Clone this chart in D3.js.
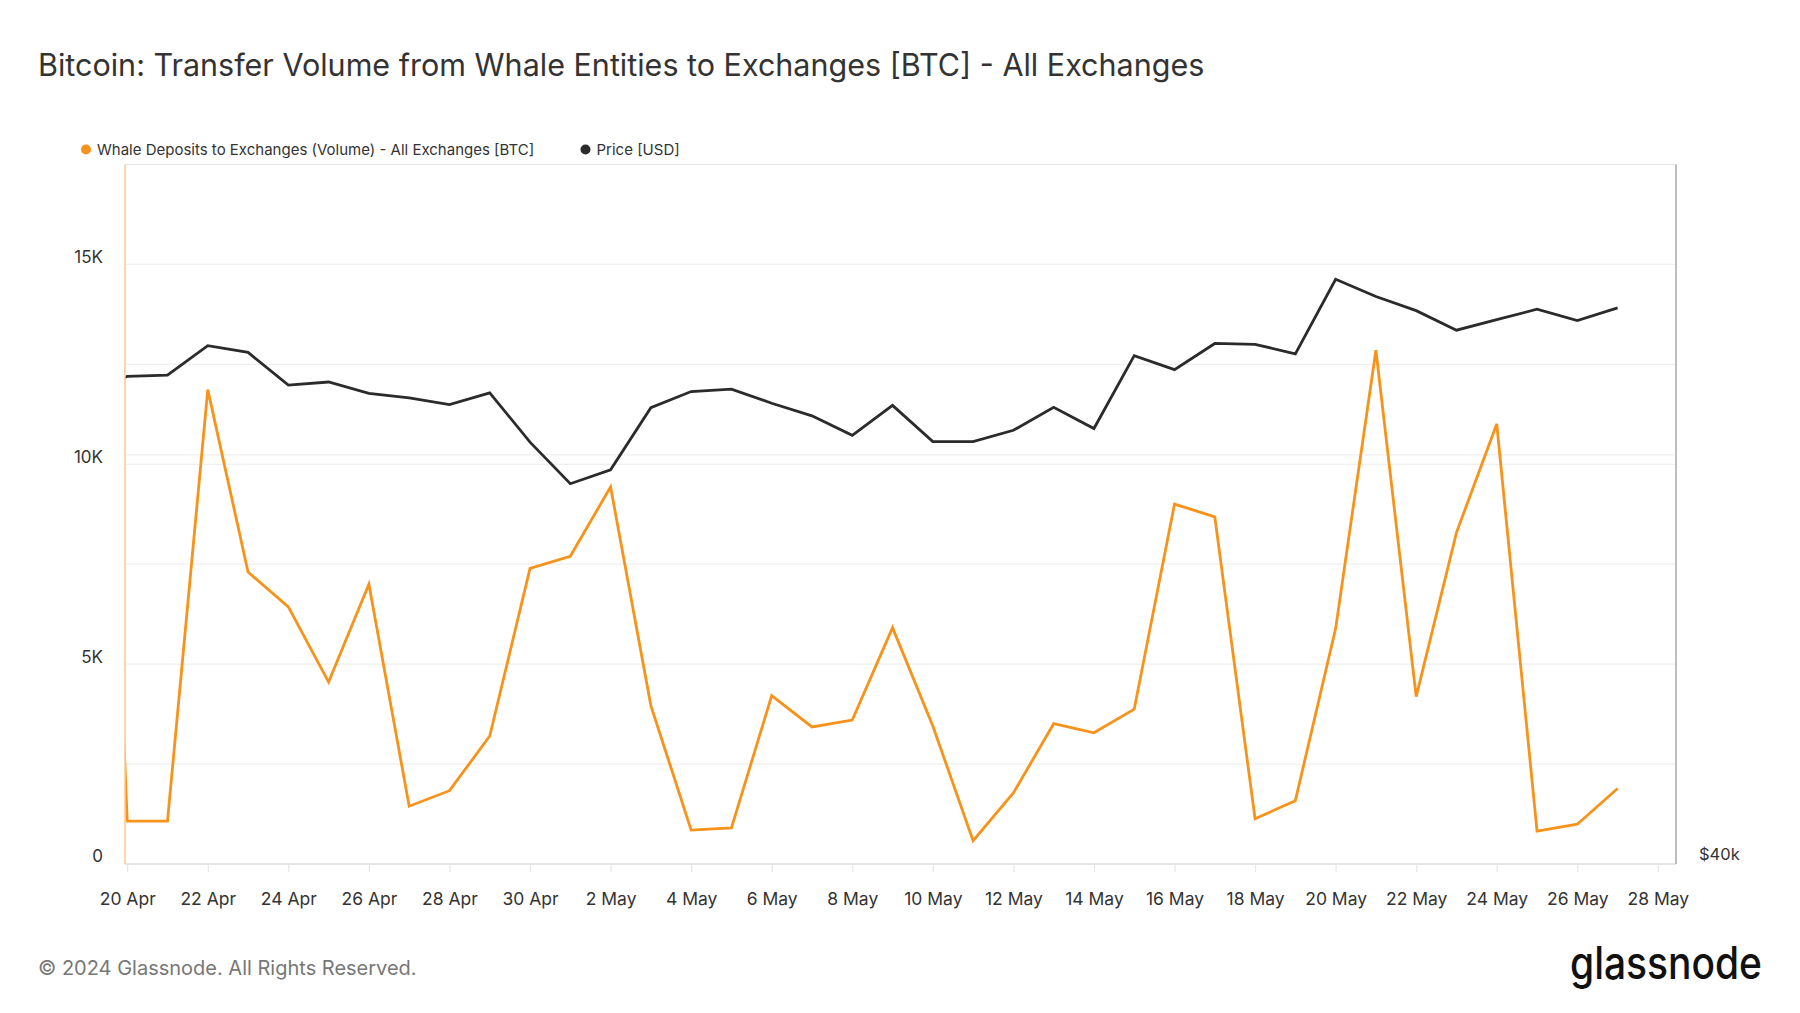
<!DOCTYPE html>
<html>
<head>
<meta charset="utf-8">
<script src="https://cdn.jsdelivr.net/npm/d3@7"></script>
<style>
  html, body { margin: 0; padding: 0; background: #fff; }
  svg { display: block; font-family: Inter, "Noto Sans", sans-serif; }
</style>
</head>
<body>
<svg id="chart" width="1800" height="1013"></svg>
<script>
// ---- Data ----
const dates = [
  "2024-04-19","2024-04-20","2024-04-21","2024-04-22","2024-04-23","2024-04-24","2024-04-25",
  "2024-04-26","2024-04-27","2024-04-28","2024-04-29","2024-04-30","2024-05-01","2024-05-02",
  "2024-05-03","2024-05-04","2024-05-05","2024-05-06","2024-05-07","2024-05-08","2024-05-09",
  "2024-05-10","2024-05-11","2024-05-12","2024-05-13","2024-05-14","2024-05-15","2024-05-16",
  "2024-05-17","2024-05-18","2024-05-19","2024-05-20","2024-05-21","2024-05-22","2024-05-23",
  "2024-05-24","2024-05-25","2024-05-26","2024-05-27"
];
const whaleDeposits = [
  25700, 1073, 1073, 11868, 7305, 6432, 4551,
  6998, 1446, 1834, 3202, 7395, 7700, 9434,
  3963, 848, 903, 4211, 3430, 3600, 5912,
  3452, 585, 1776, 3510, 3282, 3873, 9004,
  8686, 1131, 1584, 5889, 12854, 4188, 8291,
  11008, 823, 996, 1889
];
const priceUSD = [
  63900, 64845, 64928, 66856, 66408, 64292, 64488,
  63772, 63488, 63064, 63804, 60760, 58305, 59118,
  62865, 63884, 64032, 63148, 62362, 61172, 63010,
  60793, 60793, 61475, 62896, 61585, 66196, 65284,
  67000, 66944, 66316, 71396, 70188, 69216, 67888,
  68596, 69312, 68536, 69400
];
const leftTicks = [0, 5000, 10000, 15000];
const leftGrid = [2500, 5000, 7500, 10000, 12500, 15000];
const rightTicks = [40000];
const rightGrid = [60000];
const titleText = "Bitcoin: Transfer Volume from Whale Entities to Exchanges [BTC] - All Exchanges";
const seriesNames = ["Whale Deposits to Exchanges (Volume) - All Exchanges [BTC]", "Price [USD]"];
const seriesColors = ["#f7931a", "#2b2b2b"];

// ---- Layout ----
const svg = d3.select("#chart");
const L = 125, R = 1676, T = 164.5, B = 864;
const DAY = 86400000;
const t0 = Date.UTC(2024, 3, 20);

const parse = d3.utcParse("%Y-%m-%d");
const data = dates.map((d, i) => ({ date: parse(d), vol: whaleDeposits[i], price: priceUSD[i] }));

const x = d3.scaleUtc()
  .domain([new Date(t0 - 0.055 * DAY), new Date(t0 + 38.45 * DAY)])
  .range([L, R]);
const yL = d3.scaleLinear().domain([0, 17500]).range([B, T]);
const yR = d3.scaleLog().domain([40000, 80000]).range([B, T]);

// Title
svg.append("text")
  .attr("x", 38).attr("y", 75.5)
  .attr("font-size", 30.5).attr("fill", "#333")
  .text(titleText);

// Legend
const legend = svg.append("g");
const legX = [86, 585.5];
seriesNames.forEach((name, i) => {
  legend.append("circle").attr("cx", legX[i]).attr("cy", 149.5).attr("r", 5).attr("fill", seriesColors[i]);
  legend.append("text").attr("x", legX[i] + 11).attr("y", 155)
    .attr("font-size", 15).attr("fill", "#333").text(name);
});

// Gridlines
const grid = svg.append("g");
grid.selectAll("line.gl").data(leftGrid).join("line")
  .attr("x1", L).attr("x2", R)
  .attr("y1", d => yL(d)).attr("y2", d => yL(d))
  .attr("stroke", "#efefef").attr("stroke-width", 1.2);
grid.selectAll("line.gr").data(rightGrid).join("line")
  .attr("class", "gr")
  .attr("x1", L).attr("x2", R)
  .attr("y1", d => yR(d)).attr("y2", d => yR(d))
  .attr("stroke", "#efefef").attr("stroke-width", 1.2);

// Top & bottom borders
svg.append("line").attr("x1", L).attr("x2", R).attr("y1", T).attr("y2", T)
  .attr("stroke", "#e6e6e6").attr("stroke-width", 1.2);
svg.append("line").attr("x1", L).attr("x2", R).attr("y1", B).attr("y2", B)
  .attr("stroke", "#dedede").attr("stroke-width", 1.5);

// X axis ticks (every two days)
const xTicks = d3.utcDay.range(new Date(t0), new Date(t0 + 38.5 * DAY), 2);
const fmt = d3.utcFormat("%-d %b");
const xAxis = d3.axisBottom(x).tickValues(xTicks).tickFormat(fmt).tickSize(8).tickPadding(21);
const gx = svg.append("g").attr("transform", `translate(0,${B})`).call(xAxis);
gx.select(".domain").remove();
gx.selectAll(".tick line").attr("stroke", "#e6e6e6").attr("stroke-width", 1.2);
gx.selectAll(".tick text").attr("font-size", 17.5).attr("fill", "#333")
  .attr("font-family", "Inter, 'Noto Sans', sans-serif");

// Left axis labels
const yAxisL = d3.axisLeft(yL).tickValues(leftTicks)
  .tickFormat(d => d === 0 ? "0" : (d / 1000) + "K").tickSize(0).tickPadding(22);
const gyl = svg.append("g").attr("transform", `translate(${L},0)`).call(yAxisL);
gyl.select(".domain").remove();
gyl.selectAll(".tick text").attr("font-size", 17).attr("fill", "#333").attr("dy", "-0.12em")
  .attr("font-family", "Inter, 'Noto Sans', sans-serif");

// Right axis labels
const yAxisR = d3.axisRight(yR).tickValues(rightTicks)
  .tickFormat(d => "$" + (d / 1000) + "k").tickSize(0).tickPadding(23);
const gyr = svg.append("g").attr("transform", `translate(${R},0)`).call(yAxisR);
gyr.select(".domain").remove();
gyr.selectAll(".tick text").attr("font-size", 16.5).attr("fill", "#333").attr("dy", "-0.25em")
  .attr("font-family", "Inter, 'Noto Sans', sans-serif");

// Clip
svg.append("clipPath").attr("id", "clip")
  .append("rect").attr("x", L).attr("y", T).attr("width", R - L).attr("height", B - T);

const plot = svg.append("g").attr("clip-path", "url(#clip)");

plot.append("path").datum(data)
  .attr("fill", "none").attr("stroke", seriesColors[0]).attr("stroke-width", 2.8)
  .attr("stroke-linejoin", "miter")
  .attr("d", d3.line().x(d => x(d.date)).y(d => yL(d.vol)));

plot.append("path").datum(data)
  .attr("fill", "none").attr("stroke", seriesColors[1]).attr("stroke-width", 2.8)
  .attr("d", d3.line().x(d => x(d.date)).y(d => yR(d.price)));

// Side axis lines
svg.append("line").attr("x1", L).attr("x2", L).attr("y1", T).attr("y2", B)
  .attr("stroke", "#fbc88c").attr("stroke-width", 1.5);
svg.append("line").attr("x1", R).attr("x2", R).attr("y1", T).attr("y2", B)
  .attr("stroke", "#a8a8a8").attr("stroke-width", 1.5);

// Footer
svg.append("text").attr("x", 38).attr("y", 975)
  .attr("font-size", 20).attr("fill", "#777")
  .text("© 2024 Glassnode. All Rights Reserved.");
svg.append("text").attr("x", 1570).attr("y", 979)
  .attr("font-size", 45).attr("font-weight", 500).attr("fill", "#111")
  .attr("textLength", 192).attr("lengthAdjust", "spacingAndGlyphs")
  .text("glassnode");
</script>
</body>
</html>
